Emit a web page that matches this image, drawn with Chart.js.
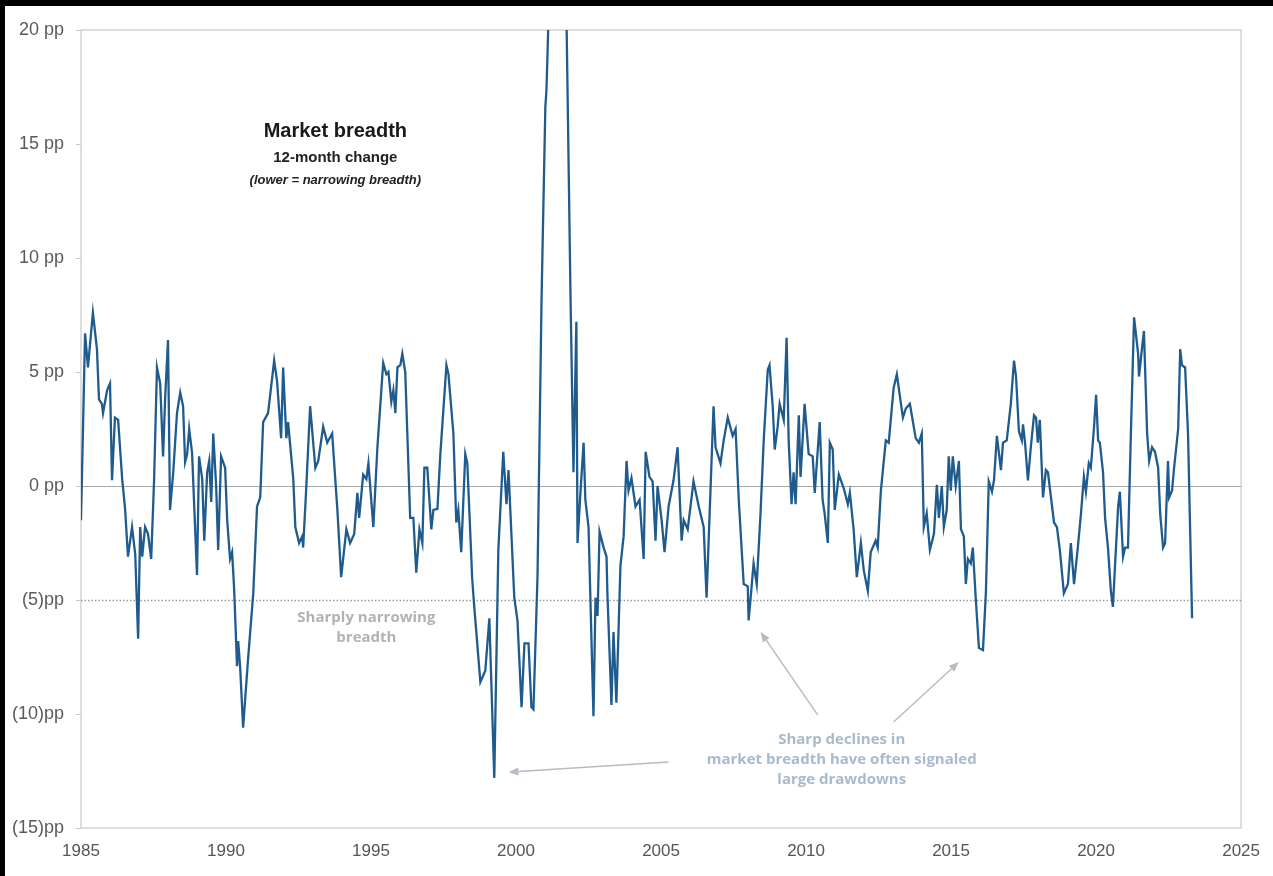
<!DOCTYPE html>
<html>
<head>
<meta charset="utf-8">
<script src="https://cdn.jsdelivr.net/npm/chart.js@4"></script>
<style>
  html, body { margin: 0; padding: 0; background: #000; }
  body { width: 1273px; height: 876px; position: relative; overflow: hidden; }
  #wrap { position: absolute; left: 5px; top: 6px; width: 1268px; height: 870px; background: #fff; }
</style>
</head>
<body>
<div id="wrap"><canvas id="chart" width="1268" height="870"></canvas></div>
<script>
// ── DATA ─────────────────────────────────────────
const years = [
  1985.00,1985.14,1985.24,1985.41,1985.55,1985.62,1985.72,1985.76,1985.90,
  1986.00,1986.07,1986.17,1986.28,1986.42,1986.52,1986.62,1986.76,1986.87,1986.97,
  1987.04,1987.11,1987.21,1987.31,1987.42,1987.52,1987.62,1987.73,1987.83,1987.90,
  1988.00,1988.07,1988.18,1988.31,1988.42,1988.52,1988.59,1988.66,1988.73,1988.83,
  1989.00,1989.07,1989.18,1989.25,1989.35,1989.42,1989.49,1989.56,1989.66,1989.73,1989.83,1989.97,
  1990.04,1990.14,1990.21,1990.28,1990.38,1990.42,1990.49,1990.59,1990.76,1990.94,
  1991.07,1991.18,1991.28,1991.45,1991.66,1991.76,1991.90,1991.97,
  1992.08,1992.14,1992.32,1992.39,1992.52,1992.63,1992.66,1992.77,1992.90,
  1993.08,1993.18,1993.35,1993.49,1993.66,1993.84,1993.97,
  1994.15,1994.28,1994.42,1994.53,1994.59,1994.73,1994.84,1994.91,
  1995.08,1995.22,1995.42,1995.53,1995.60,1995.70,1995.77,1995.84,1995.91,
  1996.01,1996.08,1996.18,1996.35,1996.46,1996.56,1996.67,1996.77,1996.84,1996.94,
  1997.08,1997.15,1997.29,1997.39,1997.60,1997.67,1997.84,1997.94,
  1998.01,1998.11,1998.25,1998.32,1998.49,1998.56,1998.77,1998.94,
  1999.08,1999.25,1999.39,1999.56,1999.67,1999.74,1999.94,
  2000.05,2000.19,2000.29,2000.43,2000.53,2000.60,2000.74,2000.88,
  2001.01,2001.05,2001.12,2001.26,2001.43,2001.60,2001.74,2001.88,2001.98,
  2002.08,2002.12,2002.22,2002.33,2002.39,2002.50,2002.67,2002.74,2002.81,2002.88,
  2003.02,2003.12,2003.15,2003.29,2003.36,2003.46,2003.60,2003.71,2003.81,2003.88,2003.98,
  2004.12,2004.26,2004.40,2004.47,2004.60,2004.71,2004.81,2004.88,
  2005.02,2005.12,2005.26,2005.43,2005.57,2005.71,2005.78,2005.92,
  2006.12,2006.30,2006.47,2006.57,2006.71,2006.81,2006.88,
  2007.05,2007.16,2007.30,2007.47,2007.57,2007.68,2007.85,2007.99,
  2008.02,2008.09,2008.19,2008.30,2008.43,2008.54,2008.68,2008.74,2008.85,2008.92,
  2009.02,2009.09,2009.23,2009.33,2009.40,2009.50,2009.57,2009.64,2009.75,2009.81,2009.95,
  2010.09,2010.23,2010.30,2010.47,2010.57,2010.64,2010.75,2010.82,2010.92,2010.99,
  2011.13,2011.30,2011.44,2011.51,2011.64,2011.75,2011.89,2011.99,
  2012.13,2012.23,2012.40,2012.47,2012.58,2012.75,2012.85,
  2013.02,2013.13,2013.34,2013.44,2013.58,2013.78,2013.89,2013.99,
  2014.06,2014.16,2014.27,2014.41,2014.51,2014.58,2014.68,2014.75,2014.85,2014.92,2014.99,
  2015.06,2015.16,2015.27,2015.34,2015.44,2015.51,2015.58,2015.68,2015.75,2015.85,2015.92,2015.96,
  2016.10,2016.20,2016.30,2016.41,2016.48,2016.58,2016.72,2016.79,2016.92,
  2017.06,2017.17,2017.24,2017.34,2017.44,2017.48,2017.55,2017.65,2017.75,2017.86,2017.93,2017.99,
  2018.06,2018.17,2018.27,2018.34,2018.55,2018.65,2018.75,2018.89,
  2019.03,2019.13,2019.24,2019.37,2019.48,2019.58,2019.65,2019.75,2019.82,2019.93,
  2020.00,2020.07,2020.13,2020.24,2020.31,2020.41,2020.51,2020.58,2020.76,2020.82,2020.93,
  2021.00,2021.10,2021.20,2021.31,2021.45,2021.48,2021.58,2021.65,2021.76,2021.83,2021.93,
  2022.03,2022.14,2022.21,2022.31,2022.38,2022.48,2022.52,2022.62,2022.69,2022.83,2022.90,2022.96,
  2023.07,2023.17,2023.31
];

// 12-month change in breadth, percentage points
const breadth = [
  -1.5,6.7,5.2,7.6,6.0,3.8,3.6,3.2,4.2,
  4.5,0.25,3.0,2.9,0.3,-1.0,-3.1,-1.8,-3.0,-6.7,
  -1.8,-3.1,-1.8,-2.1,-3.2,0.25,5.2,4.5,1.3,3.8,
  6.4,-1.05,0.6,3.2,4.1,3.5,1.05,1.4,2.5,1.45,
  -3.9,1.3,0.3,-2.4,0.6,1.1,-0.7,2.3,0,-2.8,1.3,0.8,
  -1.5,-3.2,-2.9,-4.5,-7.9,-6.8,-8.0,-10.6,-7.6,-4.7,
  -0.9,-0.5,2.8,3.2,5.5,4.6,2.1,5.2,
  2.1,2.8,0.3,-1.8,-2.5,-2.2,-2.7,0,3.5,
  0.8,1.1,2.6,1.9,2.3,-1.05,-4.0,
  -1.9,-2.5,-2.1,-0.3,-1.4,0.5,0.3,1.0,
  -1.8,1.7,5.4,4.9,5.0,3.7,4.2,3.2,5.2,
  5.3,5.8,5.0,-1.4,-1.4,-3.8,-1.9,-2.5,0.8,0.8,
  -1.9,-1.05,-1.0,1.4,5.3,4.9,2.3,-1.6,
  -1.05,-2.9,1.4,1.0,-4.1,-5.3,-8.6,-8.1,
  -5.8,-12.8,-2.8,1.5,-0.8,0.7,-4.9,
  -5.9,-9.7,-6.9,-6.9,-9.7,-9.8,-4.0,8.2,
  16.6,17.4,20.5,26,28,25,20.5,8.2,0.6,
  7.2,-2.5,-0.3,1.9,-0.6,-1.8,-10.1,-4.9,-5.7,-2.0,
  -2.7,-3.1,-4.7,-9.6,-6.4,-9.5,-3.5,-2.2,1.1,-0.2,0.35,
  -0.9,-0.6,-3.2,1.5,0.4,0.2,-2.4,0,
  -1.5,-2.9,-0.9,0.25,1.7,-2.4,-1.5,-1.9,
  0.2,-0.9,-1.8,-4.9,0,3.5,1.7,
  1.0,2.0,3.0,2.2,2.5,-0.6,-4.3,-4.4,
  -5.9,-4.9,-3.4,-4.3,-1.2,2.0,5.1,5.3,3.5,1.6,
  2.6,3.6,2.9,6.5,2.0,-0.8,0.6,-0.8,3.1,0.4,3.6,
  1.4,1.3,-0.3,2.8,-0.6,-1.2,-2.5,1.9,1.6,-1.05,
  0.5,-0.1,-0.8,-0.3,-1.9,-4.0,-2.5,-3.7,
  -4.6,-2.9,-2.4,-2.7,-0.2,2.0,1.9,
  4.3,4.9,3.0,3.4,3.6,2.1,1.9,2.3,
  -1.8,-1.2,-2.8,-2.1,0.05,-1.4,0,-1.8,-1.05,1.3,-0.2,
  1.3,0,1.1,-1.9,-2.2,-4.3,-3.2,-3.4,-2.7,-4.9,-6.3,-7.1,
  -7.2,-4.7,0.2,-0.25,0.25,2.2,0.7,1.9,2.0,
  3.6,5.5,4.8,2.4,2.0,2.7,1.9,0.25,1.7,3.1,3.0,1.9,
  2.9,-0.5,0.7,0.6,-1.6,-1.8,-2.8,-4.7,
  -4.3,-2.5,-4.3,-2.7,-1.2,0.4,-0.25,1.0,0.8,2.6,
  4.0,2.0,1.9,0.6,-1.4,-2.7,-4.6,-5.3,-0.9,-0.25,-3.1,
  -2.7,-2.7,2.3,7.4,5.8,4.8,6.0,6.8,2.3,1.1,1.7,
  1.5,0.8,-1.2,-2.7,-2.5,1.1,-0.5,-0.2,0.8,2.5,6.0,5.3,
  5.2,2.3,-5.8
];

const yTicks = [-15, -10, -5, 0, 5, 10, 15, 20];
const xTicks = [1985, 1990, 1995, 2000, 2005, 2010, 2015, 2020, 2025];
const zeroLevel = 0;
const narrowLevel = -5;

// annotation anchors, in data units (year, pp)
const notes = [
  { text: 'Market breadth', x: 1993.77, y: 15.53, font: 'bold 20px "Liberation Sans", Arial, sans-serif', color: '#1a1a1a' },
  { text: '12-month change', x: 1993.77, y: 14.39, font: 'bold 15px "Liberation Sans", Arial, sans-serif', color: '#222' },
  { text: '(lower = narrowing breadth)', x: 1993.77, y: 13.42, font: 'italic bold 13px "Liberation Sans", Arial, sans-serif', color: '#222' },
  { text: 'Sharply narrowing', x: 1994.84, y: -5.79, font: 'bold 15px "Open Sans", sans-serif', color: '#b2b2b2' },
  { text: 'breadth', x: 1994.84, y: -6.67, font: 'bold 15px "Open Sans", sans-serif', color: '#b2b2b2' },
  { text: 'Sharp declines in', x: 2011.23, y: -11.14, font: 'bold 15px "Open Sans", sans-serif', color: '#a8bacd' },
  { text: 'market breadth have often signaled', x: 2011.23, y: -12.02, font: 'bold 15px "Open Sans", sans-serif', color: '#a8bacd' },
  { text: 'large drawdowns', x: 2011.23, y: -12.89, font: 'bold 15px "Open Sans", sans-serif', color: '#a8bacd' }
];

const arrows = [
  { from: [2005.26, -12.10], to: [1999.74, -12.55] },
  { from: [2010.40, -10.04], to: [2008.43, -6.40] },
  { from: [2013.02, -10.35], to: [2015.27, -7.72] }
];

const fmtPP = v => v >= 0 ? v + ' pp' : '(' + (-v) + ')pp';

// ── PLUGIN: box, reference lines, notes ──────────
const decorPlugin = {
  id: 'decor',
  beforeDatasetsDraw(chart) {
    const { ctx, chartArea: a, scales: { y } } = chart;
    ctx.save();
    ctx.strokeStyle = '#d4d4d4';
    ctx.lineWidth = 1.5;
    ctx.strokeRect(a.left, a.top, a.right - a.left, a.bottom - a.top);

    const y0 = Math.round(y.getPixelForValue(zeroLevel)) + 0.5;
    ctx.strokeStyle = '#a9a9a9';
    ctx.lineWidth = 1;
    ctx.beginPath(); ctx.moveTo(a.left, y0); ctx.lineTo(a.right, y0); ctx.stroke();

    const y5 = Math.round(y.getPixelForValue(narrowLevel)) + 0.5;
    ctx.strokeStyle = '#9a9a9a';
    ctx.lineWidth = 1.5;
    ctx.setLineDash([1.5, 2]);
    ctx.beginPath(); ctx.moveTo(a.left, y5); ctx.lineTo(a.right, y5); ctx.stroke();
    ctx.restore();
  },
  afterDatasetsDraw(chart) {
    const { ctx, scales: { x, y } } = chart;
    ctx.save();
    ctx.textAlign = 'center';
    ctx.textBaseline = 'middle';
    notes.forEach(n => {
      ctx.font = n.font;
      ctx.fillStyle = n.color;
      ctx.fillText(n.text, x.getPixelForValue(n.x), y.getPixelForValue(n.y));
    });

    ctx.strokeStyle = '#b6bcc4';
    ctx.fillStyle = '#b6bcc4';
    ctx.lineWidth = 1.5;
    arrows.forEach(ar => {
      const x1 = x.getPixelForValue(ar.from[0]), y1 = y.getPixelForValue(ar.from[1]);
      const x2 = x.getPixelForValue(ar.to[0]), y2 = y.getPixelForValue(ar.to[1]);
      const ang = Math.atan2(y2 - y1, x2 - x1);
      const hl = 10, hw = 4;
      const bx = x2 - hl * Math.cos(ang), by = y2 - hl * Math.sin(ang);
      ctx.beginPath(); ctx.moveTo(x1, y1); ctx.lineTo(bx, by); ctx.stroke();
      ctx.beginPath();
      ctx.moveTo(x2, y2);
      ctx.lineTo(bx + hw * Math.sin(ang), by - hw * Math.cos(ang));
      ctx.lineTo(bx - hw * Math.sin(ang), by + hw * Math.cos(ang));
      ctx.closePath(); ctx.fill();
    });
    ctx.restore();
  }
};

new Chart(document.getElementById('chart'), {
  type: 'line',
  data: {
    datasets: [{
      data: years.map((yr, i) => ({ x: yr, y: breadth[i] })),
      borderColor: '#1f5b8d',
      borderWidth: 2.3,
      pointRadius: 0,
      tension: 0,
      fill: false
    }]
  },
  options: {
    responsive: false,
    animation: false,
    devicePixelRatio: 1,
    layout: { padding: { top: 24, right: 28, left: 0, bottom: 0 } },
    plugins: { legend: { display: false }, tooltip: { enabled: false } },
    scales: {
      x: {
        type: 'linear',
        min: 1985, max: 2025,
        afterBuildTicks: s => { s.ticks = xTicks.map(v => ({ value: v })); },
        afterFit: s => { s.height = 48; },
        grid: { display: false, drawTicks: false },
        border: { display: false },
        ticks: {
          callback: v => String(v),
          font: { family: '"Liberation Sans", Arial, sans-serif', size: 17 },
          color: '#555',
          padding: 13,
          maxRotation: 0
        }
      },
      y: {
        min: -15, max: 20,
        afterBuildTicks: s => { s.ticks = yTicks.map(v => ({ value: v })); },
        afterFit: s => { s.width = 76; },
        grid: { display: true, drawOnChartArea: false, drawTicks: true, tickLength: 5, color: '#c8c8c8' },
        border: { display: false },
        ticks: {
          callback: fmtPP,
          font: { family: '"Liberation Sans", Arial, sans-serif', size: 18 },
          color: '#5a5a5a',
          padding: 12
        }
      }
    }
  },
  plugins: [decorPlugin]
});
</script>
</body>
</html>
